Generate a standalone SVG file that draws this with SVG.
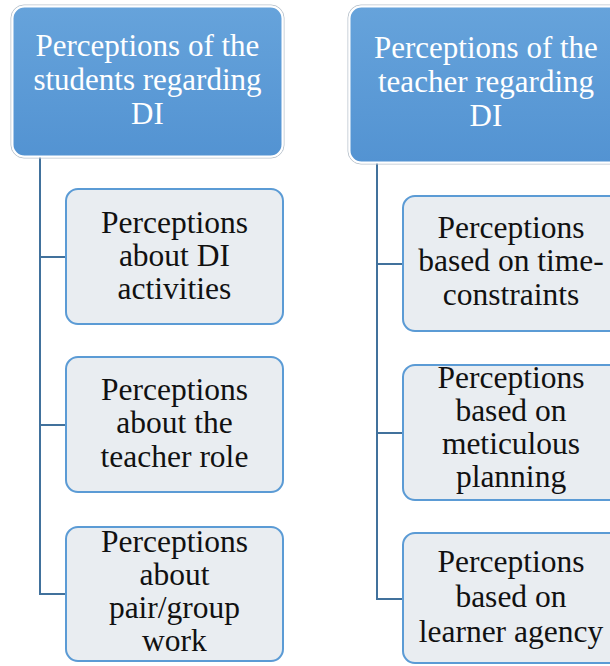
<svg xmlns="http://www.w3.org/2000/svg" width="610" height="666" viewBox="0 0 610 666">
<defs>
<linearGradient id="hg" x1="0" y1="0" x2="0" y2="1">
<stop offset="0" stop-color="#66a3db"/>
<stop offset="1" stop-color="#5393d2"/>
</linearGradient>
<style>
.hdr{fill:url(#hg);stroke:#ffffff;stroke-width:2}
.hdro{fill:none;stroke:#b9c3cd;stroke-width:1}
.box{fill:#e9edf1;stroke:#5b9bd5;stroke-width:2}
.con{fill:none;stroke:#41719c;stroke-width:2}
</style>
</defs>
<rect width="610" height="666" fill="#ffffff"/>
<g id="connectors">
<path class="con" d="M40 157 V594 H66 M40 257 H66 M40 425 H66"/>
<path class="con" d="M377 163 V599 H403 M377 264 H403 M377 433 H403"/>
</g>
<g id="h1">
<rect class="hdro" x="11" y="5" width="273" height="153" rx="13"/>
<rect class="hdr" x="12.5" y="6.5" width="270" height="150" rx="12"/>
<text font-family="'Liberation Serif'" font-size="31" fill="#ffffff" x="35.5" y="56">Perceptions of the</text>
<text font-family="'Liberation Serif'" font-size="31" fill="#ffffff" x="33.4" y="90">students regarding</text>
<text font-family="'Liberation Serif'" font-size="31" fill="#ffffff" x="131.1" y="124">DI</text>
</g>
<g id="h2">
<rect class="hdro" x="348" y="5" width="276" height="159" rx="13"/>
<rect class="hdr" x="349.5" y="6.5" width="273" height="156" rx="12"/>
<text font-family="'Liberation Serif'" font-size="31" fill="#ffffff" x="374" y="58">Perceptions of the</text>
<text font-family="'Liberation Serif'" font-size="31" fill="#ffffff" x="378" y="92">teacher regarding</text>
<text font-family="'Liberation Serif'" font-size="31" fill="#ffffff" x="469.6" y="126">DI</text>
</g>
<g id="l1">
<rect class="box" x="66" y="189" width="217" height="135" rx="12"/>
<text font-family="'Liberation Serif'" font-size="31.5" fill="#111111" x="101" y="233">Perceptions</text>
<text font-family="'Liberation Serif'" font-size="31.5" fill="#111111" x="118.9" y="266">about DI</text>
<text font-family="'Liberation Serif'" font-size="31.5" fill="#111111" x="117.6" y="299">activities</text>
</g>
<g id="l2">
<rect class="box" x="66" y="357" width="217" height="135" rx="12"/>
<text font-family="'Liberation Serif'" font-size="31.5" fill="#111111" x="101" y="400">Perceptions</text>
<text font-family="'Liberation Serif'" font-size="31.5" fill="#111111" x="116.3" y="433">about the</text>
<text font-family="'Liberation Serif'" font-size="31.5" fill="#111111" x="100.6" y="467">teacher role</text>
</g>
<g id="l3">
<rect class="box" x="66" y="527" width="217" height="134" rx="12"/>
<text font-family="'Liberation Serif'" font-size="31.5" fill="#111111" x="101" y="552">Perceptions</text>
<text font-family="'Liberation Serif'" font-size="31.5" fill="#111111" x="139.5" y="585">about</text>
<text font-family="'Liberation Serif'" font-size="31.5" fill="#111111" x="108.9" y="618">pair/group</text>
<text font-family="'Liberation Serif'" font-size="31.5" fill="#111111" x="142.1" y="651">work</text>
</g>
<g id="r1">
<rect class="box" x="403" y="196" width="220" height="135" rx="12"/>
<text font-family="'Liberation Serif'" font-size="31.5" fill="#111111" x="437.5" y="238">Perceptions</text>
<text font-family="'Liberation Serif'" font-size="31.5" fill="#111111" x="418.3" y="271">based on time-</text>
<text font-family="'Liberation Serif'" font-size="31.5" fill="#111111" x="442.8" y="305">constraints</text>
</g>
<g id="r2">
<rect class="box" x="403" y="365" width="220" height="135" rx="12"/>
<text font-family="'Liberation Serif'" font-size="31.5" fill="#111111" x="437.5" y="388">Perceptions</text>
<text font-family="'Liberation Serif'" font-size="31.5" fill="#111111" x="455.4" y="421">based on</text>
<text font-family="'Liberation Serif'" font-size="31.5" fill="#111111" x="441.9" y="454">meticulous</text>
<text font-family="'Liberation Serif'" font-size="31.5" fill="#111111" x="455.9" y="487">planning</text>
</g>
<g id="r3">
<rect class="box" x="403" y="533" width="220" height="130" rx="12"/>
<text font-family="'Liberation Serif'" font-size="31.5" fill="#111111" x="437.5" y="572">Perceptions</text>
<text font-family="'Liberation Serif'" font-size="31.5" fill="#111111" x="455.4" y="607">based on</text>
<text font-family="'Liberation Serif'" font-size="31.5" fill="#111111" x="418.7" y="642">learner agency</text>
</g>
</svg>
